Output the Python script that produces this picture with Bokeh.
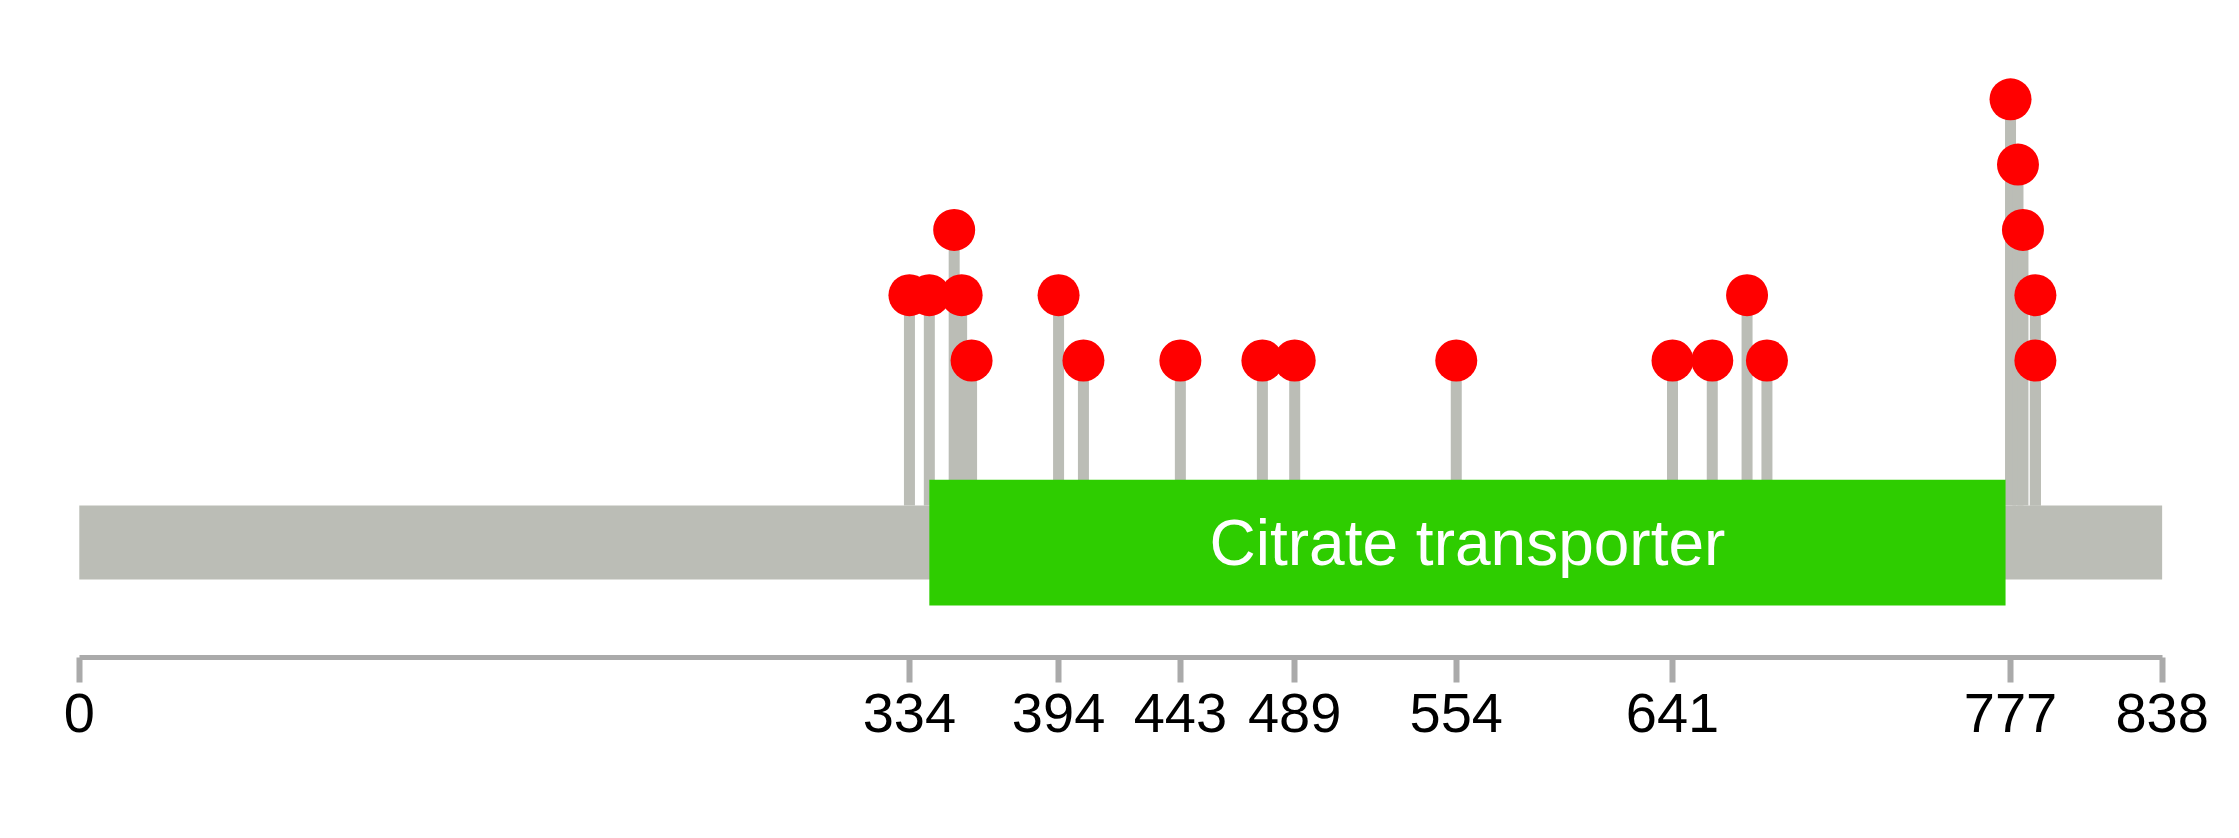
from bokeh.plotting import figure
from bokeh.models import Range1d, FixedTicker, ColumnDataSource
from bokeh.core.properties import value
from bokeh.embed import file_html
from bokeh.resources import INLINE

# ---- data ----
protein_length = 838
domain_names = ["Citrate transporter"]
domain_starts = [342]
domain_ends = [775]
mut_positions = [334, 342, 352, 355, 359, 394, 404, 443, 476, 489, 554,
                 641, 657, 671, 679, 777, 780, 782, 787, 787]
mut_counts = [2, 2, 3, 2, 1, 2, 1, 1, 1, 1, 1,
              1, 1, 2, 1, 5, 4, 3, 2, 1]
tick_values = [0, 334, 394, 443, 489, 554, 641, 777, 838]

# ---- styling constants (y in count units) ----
BACKBONE_TOP = -1.22
BACKBONE_BOTTOM = -2.354
DOMAIN_TOP = -0.827
DOMAIN_BOTTOM = -2.752
LABEL_Y = -1.80
GREY = "#BBBDB6"
GREEN = "#2ECD00"

p = figure(frame_width=2230, frame_height=657, min_border=0, min_border_bottom=170,
           x_range=Range1d(-31.7, -31.7 + 2230 / 2.4855), y_range=Range1d(-3.548, 6.513),
           y_axis_location=None, toolbar_location=None,
           output_backend="svg", tools="")
p.outline_line_color = None
p.grid.visible = False
p.background_fill_color = "white"
p.border_fill_color = "white"

ax = p.xaxis[0]
ax.ticker = FixedTicker(ticks=tick_values)
ax.bounds = (0, protein_length)
ax.axis_line_color = "#AAAAAA"
ax.axis_line_width = 5
ax.major_tick_line_color = "#AAAAAA"
ax.major_tick_line_width = 6
ax.major_tick_in = 0
ax.major_tick_out = 25
ax.minor_tick_line_color = None
ax.major_label_text_font = "Liberation Sans"
ax.major_label_text_font_size = "56px"
ax.major_label_text_color = "black"
ax.major_label_standoff = 11

msrc = ColumnDataSource(dict(x=mut_positions, y=mut_counts,
                             base=[BACKBONE_TOP] * len(mut_positions)))

# stems
p.segment(x0="x", y0="base", x1="x", y1="y", source=msrc,
          line_width=11, line_color=GREY)

# backbone
p.quad(left=[0], right=[protein_length], bottom=[BACKBONE_BOTTOM], top=[BACKBONE_TOP],
       fill_color=GREY, line_color=None)

# domain
dsrc = ColumnDataSource(dict(left=domain_starts, right=domain_ends,
                             mid=[(a + b) / 2 for a, b in zip(domain_starts, domain_ends)],
                             name=domain_names))
p.quad(left="left", right="right", bottom=DOMAIN_BOTTOM, top=DOMAIN_TOP, source=dsrc,
       fill_color=GREEN, line_color=None)
p.text(x="mid", y=LABEL_Y, text="name", source=dsrc, text_color="white",
       text_font=value("Liberation Sans"), text_font_size="64px",
       text_align="center", text_baseline="middle")

# heads
p.scatter(x="x", y="y", source=msrc, size=42, fill_color="#FF0000", line_color=None)

open("out.html", "w").write(file_html(p, INLINE))
